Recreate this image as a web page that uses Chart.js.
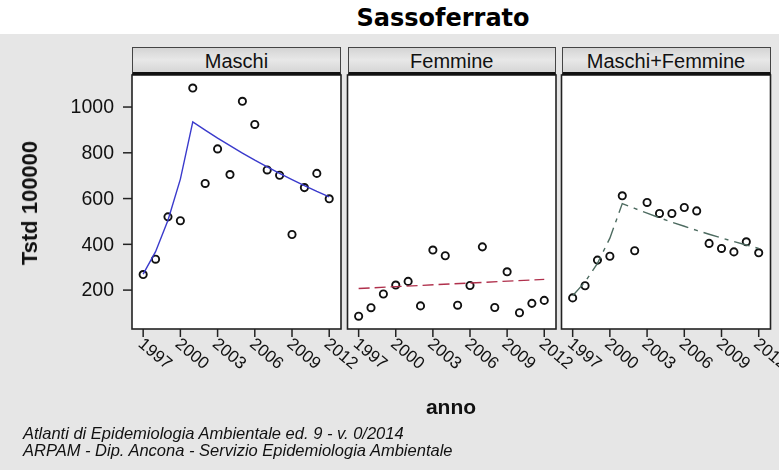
<!DOCTYPE html>
<html>
<head>
<meta charset="utf-8">
<script src="https://cdn.jsdelivr.net/npm/chart.js@4.4.1/dist/chart.umd.min.js"></script>
<style>
  html, body { margin: 0; padding: 0; }
  body {
    width: 779px; height: 470px; position: relative; overflow: hidden;
    background: #e6e6e6; font-family: "Liberation Sans", Arial, sans-serif; color: #111;
  }
  #topband { position: absolute; left: 0; top: 0; width: 779px; height: 34px; background: #fff; }
  #title {
    position: absolute; top: 6px; left: 443px; transform: translateX(-50%);
    font: bold 24px/1 "DejaVu Sans", sans-serif; white-space: nowrap; color: #000;
  }
  canvas.panel { position: absolute; left: 0; top: 0; }
  .strip {
    position: absolute; top: 47px; height: 28px; box-sizing: border-box;
    border: 1px solid #444; border-bottom: 3px solid #111;
    background: linear-gradient(#d4d4d4, #e8e8e8 50%, #d6d6d6);
    text-align: center; font: 20px/20px "Liberation Sans", Arial, sans-serif;
    padding-top: 3px; color: #111; white-space: nowrap;
  }
  #ytitle {
    position: absolute; left: 30px; top: 203px;
    transform: translate(-50%, -50%) rotate(-90deg);
    font: bold 22px/1 "Liberation Sans", Arial, sans-serif; white-space: nowrap;
  }
  #xtitle {
    position: absolute; left: 451px; top: 396px; transform: translateX(-50%);
    font: bold 21px/1 "Liberation Sans", Arial, sans-serif;
  }
  #footer {
    position: absolute; left: 23px; top: 425px;
    font: italic 16.5px/17px "Liberation Sans", Arial, sans-serif; white-space: nowrap; color: #111;
  }
</style>
</head>
<body>
<div id="topband"></div>
<div id="title">Sassoferrato</div>
<canvas class="panel" id="p0" width="779" height="470"></canvas>
<canvas class="panel" id="p1" width="779" height="470"></canvas>
<canvas class="panel" id="p2" width="779" height="470"></canvas>
<div id="ytitle">Tstd 100000</div>
<div id="xtitle">anno</div>
<div id="footer">Atlanti di Epidemiologia Ambientale ed. 9 - v. 0/2014<br>ARPAM - Dip. Ancona - Servizio Epidemiologia Ambientale</div>

<script>
// Standardised rates per 100000, by year
const years = [1997, 1998, 1999, 2000, 2001, 2002, 2003, 2004, 2005, 2006, 2007, 2008, 2009, 2010, 2011, 2012];
const maschi  = [268, 335, 520, 503, 1083, 666, 817, 705, 1025, 924, 725, 702, 443, 648, 710, 599];
const femmine = [86, 123, 183, 222, 238, 131, 375, 350, 134, 220, 389, 124, 280, 101, 142, 155];
const totale  = [166, 219, 331, 348, 612, 372, 583, 535, 535, 561, 546, 404, 382, 367, 411, 363];

// Fitted trends (joinpoint model)
const fitMaschi  = [270, 368, 505, 685, 935, 899, 864, 831, 799, 768, 739, 710, 683, 657, 631, 607];
const fitFemmineYears = [1997, 2012];
const fitFemmine = [207, 247];
const fitTotale  = [175, 236, 317, 427, 578, 557, 536, 516, 497, 479, 461, 444, 428, 412, 397, 382];

const panelNames = ['Maschi', 'Femmine', 'Maschi+Femmine'];
const xTickYears = [1997, 2000, 2003, 2006, 2009, 2012];
const yTickValues = [200, 400, 600, 800, 1000];

// panel frames on the page
const panelLeft  = [132, 347.5, 561.5];
const panelRight = [341, 556, 770.5];
const plotTop = 75, plotBottom = 329;

function pts(xs, ys) { return xs.map((x, i) => ({ x: x, y: ys[i] })); }

const panelData = [
  { obs: maschi,  fit: pts(years, fitMaschi),  color: '#3a3acc', dash: [] },
  { obs: femmine, fit: pts(fitFemmineYears, fitFemmine), color: '#b0304c', dash: [11, 5] },
  { obs: totale,  fit: pts(years, fitTotale),  color: '#4d6b60', dash: [16, 6, 4, 6] }
];

const framePlugin = {
  id: 'frame',
  beforeDatasetsDraw(chart) {
    const { ctx, chartArea: a } = chart;
    ctx.save();
    ctx.fillStyle = '#ffffff';
    ctx.fillRect(a.left, a.top, a.right - a.left, a.bottom - a.top);
    ctx.restore();
  },
  afterDraw(chart, args, opts) {
    const { ctx, chartArea: a, scales } = chart;
    ctx.save();
    ctx.strokeStyle = '#222';
    ctx.lineWidth = 1.6;
    ctx.strokeRect(a.left, a.top, a.right - a.left, a.bottom - a.top);

    // x ticks and slanted labels
    ctx.fillStyle = '#111';
    ctx.lineWidth = 1.5;
    ctx.font = '17px "Liberation Sans", Arial, sans-serif';
    ctx.textAlign = 'left';
    ctx.textBaseline = 'middle';
    xTickYears.forEach(yr => {
      const px = scales.x.getPixelForValue(yr);
      ctx.beginPath();
      ctx.moveTo(px, a.bottom);
      ctx.lineTo(px, a.bottom + 8);
      ctx.stroke();
      ctx.save();
      ctx.translate(px - 3, a.bottom + 13);
      ctx.rotate(40 * Math.PI / 180);
      ctx.fillText(String(yr), 0, 0);
      ctx.restore();
    });

    // y ticks on the first panel only
    if (opts.yAxis) {
      ctx.font = '19.5px "Liberation Sans", Arial, sans-serif';
      ctx.textAlign = 'right';
      yTickValues.forEach(v => {
        const py = scales.y.getPixelForValue(v);
        ctx.beginPath();
        ctx.moveTo(a.left - 9, py);
        ctx.lineTo(a.left, py);
        ctx.stroke();
        ctx.fillText(String(v), a.left - 18, py + 1);
      });
    }
    ctx.restore();
  }
};

panelData.forEach((p, k) => {
  const strip = document.createElement('div');
  strip.className = 'strip';
  strip.style.left = panelLeft[k] + 'px';
  strip.style.width = (panelRight[k] - panelLeft[k]) + 'px';
  strip.textContent = panelNames[k];
  document.body.appendChild(strip);

  new Chart(document.getElementById('p' + k), {
    type: 'line',
    data: {
      datasets: [
        {
          data: p.fit,
          borderColor: p.color,
          borderWidth: 1.4,
          borderDash: p.dash,
          pointRadius: 0,
          fill: false,
          tension: 0
        },
        {
          data: pts(years, p.obs),
          showLine: false,
          pointRadius: 3.6,
          pointBorderWidth: 1.9,
          pointBorderColor: '#111',
          pointBackgroundColor: 'rgba(0,0,0,0)'
        }
      ]
    },
    options: {
      responsive: false,
      animation: false,
      devicePixelRatio: 1,
      layout: {
        padding: { left: panelLeft[k], right: 779 - panelRight[k], top: plotTop, bottom: 470 - plotBottom }
      },
      scales: {
        x: { type: 'linear', min: 1996.1, max: 2012.95, display: false },
        y: { type: 'linear', min: 30, max: 1140, display: false }
      },
      plugins: {
        legend: { display: false },
        tooltip: { enabled: false },
        frame: { yAxis: k === 0 }
      }
    },
    plugins: [framePlugin]
  });
});
</script>
</body>
</html>
